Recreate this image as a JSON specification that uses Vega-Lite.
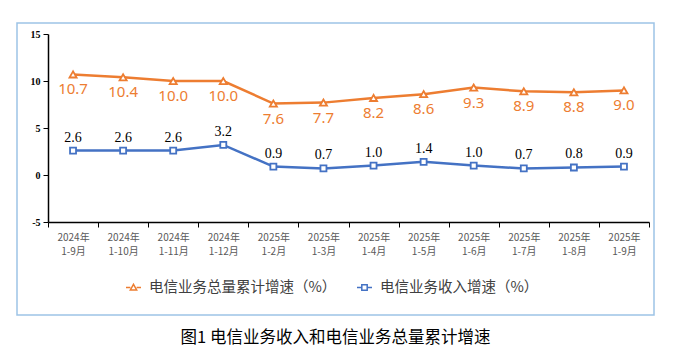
{
  "$schema": "https://vega.github.io/schema/vega-lite/v6.json",
  "width": 637,
  "height": 292,
  "padding": {"left": 17, "top": 23, "right": 23, "bottom": 6},
  "background": "white",
  "config": {
    "view": {"stroke": "#9DC3E6", "strokeWidth": 1.5},
    "font": "Noto Sans CJK SC"
  },
  "title": {
    "text": "图1 电信业务收入和电信业务总量累计增速",
    "orient": "bottom",
    "anchor": "middle",
    "font": "Noto Sans CJK SC",
    "fontSize": 16.5,
    "fontWeight": "normal",
    "color": "#000000",
    "offset": 15
  },
  "data": {
    "values": [
      {"period": "2024年|1-9月", "series": "电信业务总量累计增速（%）", "value": 10.7},
      {"period": "2024年|1-10月", "series": "电信业务总量累计增速（%）", "value": 10.4},
      {"period": "2024年|1-11月", "series": "电信业务总量累计增速（%）", "value": 10.0},
      {"period": "2024年|1-12月", "series": "电信业务总量累计增速（%）", "value": 10.0},
      {"period": "2025年|1-2月", "series": "电信业务总量累计增速（%）", "value": 7.6},
      {"period": "2025年|1-3月", "series": "电信业务总量累计增速（%）", "value": 7.7},
      {"period": "2025年|1-4月", "series": "电信业务总量累计增速（%）", "value": 8.2},
      {"period": "2025年|1-5月", "series": "电信业务总量累计增速（%）", "value": 8.6},
      {"period": "2025年|1-6月", "series": "电信业务总量累计增速（%）", "value": 9.3},
      {"period": "2025年|1-7月", "series": "电信业务总量累计增速（%）", "value": 8.9},
      {"period": "2025年|1-8月", "series": "电信业务总量累计增速（%）", "value": 8.8},
      {"period": "2025年|1-9月", "series": "电信业务总量累计增速（%）", "value": 9.0},
      {"period": "2024年|1-9月", "series": "电信业务收入增速（%）", "value": 2.6},
      {"period": "2024年|1-10月", "series": "电信业务收入增速（%）", "value": 2.6},
      {"period": "2024年|1-11月", "series": "电信业务收入增速（%）", "value": 2.6},
      {"period": "2024年|1-12月", "series": "电信业务收入增速（%）", "value": 3.2},
      {"period": "2025年|1-2月", "series": "电信业务收入增速（%）", "value": 0.9},
      {"period": "2025年|1-3月", "series": "电信业务收入增速（%）", "value": 0.7},
      {"period": "2025年|1-4月", "series": "电信业务收入增速（%）", "value": 1.0},
      {"period": "2025年|1-5月", "series": "电信业务收入增速（%）", "value": 1.4},
      {"period": "2025年|1-6月", "series": "电信业务收入增速（%）", "value": 1.0},
      {"period": "2025年|1-7月", "series": "电信业务收入增速（%）", "value": 0.7},
      {"period": "2025年|1-8月", "series": "电信业务收入增速（%）", "value": 0.8},
      {"period": "2025年|1-9月", "series": "电信业务收入增速（%）", "value": 0.9}
    ]
  },
  "encoding": {
    "x": {
      "field": "period",
      "type": "nominal",
      "sort": null,
      "scale": {"type": "band", "range": [31, 632], "paddingInner": 0, "paddingOuter": 0},
      "axis": {
        "title": null,
        "orient": "bottom",
        "offset": -93,
        "labelAngle": 0,
        "labelExpr": "split(datum.label, '|')",
        "labelFont": "Noto Sans CJK SC",
        "labelFontSize": 10,
        "labelColor": "#595959",
        "labelLineHeight": 14,
        "labelPadding": 5,
        "tickBand": "extent",
        "tickSize": 5,
        "tickColor": "#000000",
        "tickWidth": 1,
        "domainColor": "#000000",
        "domainWidth": 1.5,
        "grid": false
      }
    },
    "y": {
      "field": "value",
      "type": "quantitative",
      "scale": {"domain": [-5, 15], "range": [199, 11], "nice": false, "zero": false},
      "axis": {
        "title": null,
        "offset": -31,
        "values": [-5, 0, 5, 10, 15],
        "labelExpr": "replace(datum.label, '−', '-')",
        "labelFont": "Liberation Serif",
        "labelFontSize": 10,
        "labelFontWeight": "bold",
        "labelColor": "#000000",
        "labelPadding": 3,
        "tickSize": 5,
        "tickColor": "#000000",
        "domainColor": "#000000",
        "domainWidth": 1.5,
        "grid": false
      }
    }
  },
  "layer": [
    {
      "mark": {"type": "line", "strokeWidth": 2.5},
      "encoding": {
        "color": {
          "field": "series",
          "type": "nominal",
          "scale": {
            "domain": ["电信业务总量累计增速（%）", "电信业务收入增速（%）"],
            "range": ["#ED7D31", "#4472C4"]
          },
          "legend": {
            "title": null,
            "orient": "none",
            "direction": "horizontal",
            "legendX": 108,
            "legendY": 256,
            "labelFont": "Noto Sans CJK SC",
            "labelFontSize": 14.5,
            "labelColor": "#404040",
            "labelLimit": 400,
            "labelOffset": 7,
            "columnPadding": 17,
            "symbolSize": 225,
            "symbolStrokeWidth": 1.5,
            "encoding": {
              "symbols": {
                "shape": {
                  "condition": {"test": "datum.value === '电信业务总量累计增速（%）'", "value": "M-1,0L-0.42,0M0.42,0L1,0M0,-0.42L0.42,0.32L-0.42,0.32Z"},
                  "value": "M-1,0L-0.36,0M0.36,0L1,0M-0.36,-0.36L0.36,-0.36L0.36,0.36L-0.36,0.36Z"
                },
                "fill": {"value": "#ffffff"}
              }
            }
          }
        }
      }
    },
    {
      "transform": [{"filter": "datum.series === '电信业务总量累计增速（%）'"}],
      "mark": {"type": "point", "shape": "triangle-up", "filled": true, "fill": "#ffffff", "stroke": "#ED7D31", "strokeWidth": 1.8, "opacity": 1, "size": 50},
      "encoding": {}
    },
    {
      "transform": [{"filter": "datum.series === '电信业务收入增速（%）'"}],
      "mark": {"type": "point", "shape": "square", "filled": true, "fill": "#ffffff", "stroke": "#4472C4", "strokeWidth": 1.8, "opacity": 1, "size": 36},
      "encoding": {}
    },
    {
      "transform": [{"filter": "datum.series === '电信业务总量累计增速（%）'"}],
      "mark": {"type": "text", "baseline": "middle", "align": "center", "dy": 15, "font": "Noto Sans", "fontSize": 15, "color": "#ED7D31"},
      "encoding": {"text": {"field": "value", "type": "quantitative", "format": ".1f"}}
    },
    {
      "transform": [{"filter": "datum.series === '电信业务收入增速（%）'"}],
      "mark": {"type": "text", "baseline": "middle", "align": "center", "dy": -13, "font": "Liberation Serif", "fontSize": 14, "color": "#000000"},
      "encoding": {"text": {"field": "value", "type": "quantitative", "format": ".1f"}}
    }
  ]
}
